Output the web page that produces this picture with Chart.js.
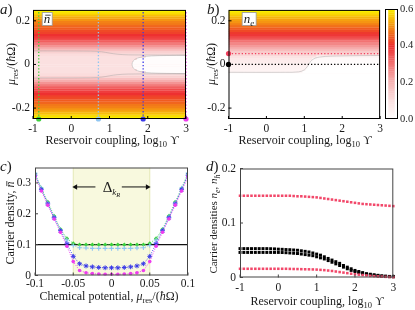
<!DOCTYPE html>
<html><head><meta charset="utf-8">
<script src="https://cdn.jsdelivr.net/npm/chart.js@4/dist/chart.umd.min.js"></script>
<style>
html,body{margin:0;padding:0;background:#fff;width:415px;height:310px;overflow:hidden;position:relative}
canvas{position:absolute}
</style></head><body>
<canvas id="ca" width="205" height="150" style="left:0;top:0"></canvas>
<canvas id="cb" width="186" height="150" style="left:200px;top:0"></canvas>
<canvas id="cbar" width="40" height="150" style="left:375px;top:0"></canvas>
<canvas id="cc" width="205" height="160" style="left:0;top:150px"></canvas>
<canvas id="cd" width="210" height="160" style="left:205px;top:150px"></canvas>
<script>
// ================= DATA =================
const muRows = [-0.245,-0.235,-0.225,-0.215,-0.205,-0.195,-0.185,-0.175,-0.165,-0.155,-0.145,-0.135,-0.125,-0.115,-0.105,-0.095,-0.085,-0.075,-0.065,-0.055,-0.045,-0.035,-0.025,-0.015,-0.005,0.005,0.015,0.025,0.035,0.045,0.055,0.065,0.075,0.085,0.095,0.105,0.115,0.125,0.135,0.145,0.155,0.165,0.175,0.185,0.195,0.205,0.215,0.225,0.235,0.245];
const nBarRows = [0.60,0.58,0.55,0.53,0.51,0.49,0.48,0.46,0.45,0.43,0.42,0.40,0.38,0.36,0.33,0.29,0.25,0.21,0.17,0.135,0.11,0.10,0.10,0.10,0.10,0.10,0.10,0.10,0.10,0.11,0.135,0.17,0.21,0.25,0.29,0.33,0.36,0.38,0.40,0.42,0.43,0.45,0.46,0.48,0.49,0.51,0.53,0.55,0.58,0.60];
const coreMuA    = [-0.035,-0.025,-0.015,-0.005,0.005,0.015,0.025,0.035];
const coreStartA = [1.95,1.72,1.62,1.59,1.59,1.62,1.72,1.95];
const coreValA   = [0.01,0.01,0.01,0.01,0.01,0.01,0.01,0.01];
const contACoreUps = [3.0,2.5,2.1,1.85,1.7,1.62,1.59,1.62,1.7,1.85,2.1,2.5,3.0];
const contACoreMu  = [0.042,0.041,0.039,0.034,0.027,0.016,0,-0.016,-0.027,-0.034,-0.039,-0.041,-0.042];
const contAOutUps  = [-1,0.5,0.8,1.0,1.2,1.5,3.0];
const contAOutMu   = [0.062,0.061,0.058,0.052,0.047,0.044,0.043];
const neRows = [0,0,0,0,0,0,0,0,0,0,0,0,0,0,0,0,0,0,0,0,0,0.03,0.035,0.04,0.045,0.05,0.06,0.07,0.09,0.12,0.15,0.18,0.21,0.24,0.27,0.30,0.33,0.36,0.39,0.41,0.43,0.45,0.47,0.49,0.51,0.52,0.54,0.56,0.58,0.60];
const coreMuB    = [-0.035,-0.025,-0.015,-0.005,0.005,0.015,0.025,0.035];
const coreStartB = [0.95,1.03,1.08,1.11,1.13,1.16,1.21,1.32];
const coreValB   = [0,0,0,0.002,0.006,0.012,0.02,0.035];
const contBUps = [-1,0.5,0.85,1.0,1.1,1.2,1.4,2.0,3.0];
const contBMu  = [-0.036,-0.036,-0.034,-0.025,-0.005,0.02,0.034,0.039,0.041];
const cutsUps   = [-0.85, 0.71, 1.88, 3.0];
const cutsColor = ['#3dd13d','#8fc6f2','#3a3ae8','#ee3cee'];
const cutsMu      = [0.05, 0];
const cutsMuColor = ['#f2405e','#000000'];
const cbarLevels = [];
for (let v = 0.005; v < 0.6; v += 0.01) cbarLevels.push(+v.toFixed(3));
const cbarTicks = [0, 0.2, 0.4, 0.6];
const muC = [-0.1,-0.0917,-0.0833,-0.075,-0.0667,-0.0583,-0.05,-0.0417,-0.0333,-0.025,-0.0167,-0.0083,0,0.0083,0.0167,0.025,0.0333,0.0417,0.05,0.0583,0.0667,0.075,0.0833,0.0917,0.1];
const nGreen = [0.330,0.283,0.238,0.193,0.150,0.120,0.104,0.100,0.100,0.100,0.100,0.100,0.100,0.100,0.100,0.100,0.100,0.100,0.104,0.120,0.150,0.193,0.238,0.283,0.330];
const nLight = [0.332,0.283,0.236,0.190,0.148,0.115,0.097,0.090,0.089,0.088,0.088,0.088,0.088,0.088,0.088,0.088,0.089,0.090,0.097,0.115,0.148,0.190,0.236,0.283,0.332];
const nBlue  = [0.325,0.278,0.232,0.187,0.145,0.103,0.062,0.038,0.031,0.028,0.026,0.025,0.025,0.025,0.026,0.028,0.031,0.038,0.062,0.103,0.145,0.187,0.232,0.278,0.325];
const nMag   = [0.320,0.274,0.228,0.183,0.140,0.095,0.045,0.016,0.009,0.006,0.005,0.004,0.004,0.004,0.005,0.006,0.009,0.016,0.045,0.095,0.140,0.183,0.228,0.274,0.320];
const bandC = [-0.05, 0.05];
const nTarget = 0.1;
const arrowY = 0.287;
const xTicksC = [-0.1,-0.05,0,0.05,0.1];
const yTicksC = [0,0.1,0.2,0.3];
const upsD = [-1.0,-0.9,-0.8,-0.7,-0.6,-0.5,-0.4,-0.3,-0.2,-0.1,0.0,0.1,0.2,0.3,0.4,0.5,0.6,0.7,0.8,0.9,1.0,1.1,1.2,1.3,1.4,1.5,1.6,1.7,1.8,1.9,2.0,2.1,2.2,2.3,2.4,2.5,2.6,2.7,2.8,2.9,3.0];
const neRed  = [0.150,0.150,0.150,0.150,0.150,0.150,0.150,0.150,0.150,0.150,0.150,0.150,0.150,0.150,0.1495,0.149,0.149,0.1485,0.148,0.1475,0.147,0.146,0.145,0.144,0.143,0.142,0.141,0.140,0.139,0.138,0.137,0.136,0.135,0.1345,0.134,0.1335,0.133,0.1325,0.132,0.1315,0.131];
const nhRed  = [0.016,0.016,0.016,0.016,0.016,0.016,0.016,0.016,0.016,0.016,0.016,0.016,0.016,0.0158,0.0156,0.0155,0.0153,0.0151,0.015,0.0148,0.0145,0.014,0.0135,0.0128,0.012,0.011,0.010,0.009,0.008,0.007,0.006,0.0052,0.0045,0.0038,0.003,0.0025,0.002,0.0016,0.0012,0.001,0.0008];
const neBlk  = [0.053,0.053,0.053,0.053,0.053,0.053,0.053,0.053,0.0528,0.0525,0.052,0.0517,0.0513,0.051,0.0505,0.050,0.049,0.048,0.0468,0.045,0.043,0.041,0.038,0.035,0.032,0.029,0.026,0.022,0.019,0.016,0.013,0.011,0.009,0.007,0.006,0.005,0.004,0.003,0.0025,0.002,0.002];
const nhBlk  = [0.046,0.046,0.046,0.046,0.046,0.046,0.046,0.046,0.046,0.046,0.046,0.0458,0.0455,0.045,0.0445,0.044,0.043,0.042,0.041,0.040,0.038,0.036,0.034,0.031,0.028,0.025,0.022,0.019,0.016,0.013,0.011,0.009,0.007,0.006,0.005,0.004,0.003,0.0025,0.002,0.0015,0.0012];
const upsTicks = [-1,0,1,2,3];
const muTicks = [-0.2,0,0.2];
const yTicksD = [0,0.1,0.2];

// ================= STYLE HELPERS =================
const FONT = '"Liberation Serif","DejaVu Serif",serif';
const TXT = '#1a1a1a';
Chart.defaults.font.family = FONT;
Chart.defaults.font.size = 11.5;
Chart.defaults.color = TXT;
Chart.defaults.animation = false;
Chart.defaults.plugins.legend.display = false;
Chart.defaults.plugins.tooltip.enabled = false;
Chart.defaults.layout.autoPadding = false;

const cmapStops = [[0,255,255,255],[0.1,251,224,224],[0.2,246,180,180],[0.3,242,115,115],[0.4,238,48,48],[0.45,240,92,32],[0.5,244,138,20],[0.55,248,192,8],[0.6,250,240,0]];
function cmap(v){
  if (v <= 0) return 'rgb(255,255,255)';
  if (v >= 0.6) return 'rgb(250,240,0)';
  for (let i=1;i<cmapStops.length;i++){
    const a=cmapStops[i-1], b=cmapStops[i];
    if (v<=b[0]){ const f=(v-a[0])/(b[0]-a[0]);
      return `rgb(${Math.round(a[1]+f*(b[1]-a[1]))},${Math.round(a[2]+f*(b[2]-a[2]))},${Math.round(a[3]+f*(b[3]-a[3]))})`; }
  }
}
const fmt = v => (Math.abs(v)<1e-9 ? '0' : String(+v.toFixed(3)));
const setTicks = arr => (s => { s.ticks = arr.map(v => ({value:v})); });

const S = (t,z,d,i,bar)=>({t,z,d:d||0,i:!!i,bar:!!bar});
function segFont(s){ return (s.i?'italic ':'') + s.z + 'px ' + FONT; }
function drawRich(ctx, segs, x, y, rot, align){
  ctx.save(); ctx.translate(x,y); if (rot) ctx.rotate(rot);
  let w=0; segs.forEach(s=>{ctx.font=segFont(s); s._w=ctx.measureText(s.t).width; w+=s._w;});
  let cx = align==='left'?0:(align==='right'?-w:-w/2);
  ctx.fillStyle=TXT; ctx.strokeStyle=TXT; ctx.textBaseline='alphabetic'; ctx.textAlign='left';
  segs.forEach(s=>{ctx.font=segFont(s); ctx.fillText(s.t,cx,s.d);
    if (s.bar){ctx.lineWidth=0.8;ctx.beginPath();ctx.moveTo(cx+1.5,s.d-s.z*0.6);ctx.lineTo(cx+s._w+0.5,s.d-s.z*0.6);ctx.stroke();}
    cx+=s._w;});
  ctx.restore();
  return w;
}
function drawBoxed(ctx, segs, x, y){
  ctx.save();
  let w=0; segs.forEach(s=>{ctx.font=segFont(s); w+=ctx.measureText(s.t).width;});
  ctx.fillStyle='#fff'; ctx.strokeStyle='#9a9a9a'; ctx.lineWidth=0.8;
  ctx.fillRect(x-1.5, y-10.5, w+3.5, 13); ctx.strokeRect(x-1.5, y-10.5, w+3.5, 13);
  ctx.restore();
  drawRich(ctx, segs, x, y, 0, 'left');
}
const upsTitle = [S('Reservoir coupling, log',12), S('10',8.5,3), S(' ϒ',12)];
const muTitle  = [S('μ',12,0,true), S('res',8.5,3), S('/(',12), S('ħ',12,0,true), S('Ω)',12)];

function framePlugin(color){
  return { id:'frame', afterDatasetsDraw(chart){
    const {ctx, chartArea:a} = chart;
    ctx.save(); ctx.strokeStyle=color; ctx.lineWidth=1;
    ctx.strokeRect(a.left+0.5, a.top+0.5, a.right-a.left-1, a.bottom-a.top-1);
    const sx = chart.scales.x, sy = chart.scales.y;
    ctx.beginPath();
    sx.ticks.forEach(t=>{const p=sx.getPixelForValue(t.value); ctx.moveTo(p,a.bottom); ctx.lineTo(p,a.bottom-3);});
    sy.ticks.forEach(t=>{const p=sy.getPixelForValue(t.value); ctx.moveTo(a.left,p); ctx.lineTo(a.left+3,p);});
    ctx.stroke(); ctx.restore();
  }};
}
function textPlugin(fn){ return { id:'txt', afterDraw(chart){ fn(chart.ctx, chart.chartArea, chart); } }; }

function heatScales(L, R, T, B, cw, ch){
  return {
    layout:{padding:{left:0, right:cw-R, top:T, bottom:0}},
    scales:{
      x:{type:'linear', min:-1, max:3, offset:false, grid:{display:false, drawTicks:false}, border:{display:false},
         afterBuildTicks:setTicks(upsTicks), afterFit:s=>{s.height=ch-B;}, ticks:{padding:3, callback:fmt}},
      yCat:{type:'category', display:false, reverse:true, offset:true, grid:{display:false}},
      y:{type:'linear', min:-0.25, max:0.25, position:'left', grid:{display:false, drawTicks:false}, border:{display:false},
         afterBuildTicks:setTicks(muTicks), afterFit:s=>{s.width=L;}, ticks:{padding:3, callback:fmt}}
    }
  };
}
function heatBar(values, starts){
  return {type:'bar', indexAxis:'y', xAxisID:'x', yAxisID:'yCat', grouped:false, order:10,
    barPercentage:1.15, categoryPercentage:1, borderWidth:0,
    data: starts, backgroundColor: values.map(v=>cmap(v))};
}
function coreData(coreMu, coreStart, coreVal){
  const d = muRows.map(()=>null), c = muRows.map(()=>'#fff');
  coreMu.forEach((m,i)=>{ const k = muRows.indexOf(m); d[k] = [coreStart[i], 3]; c[k] = cmap(coreVal[i]); });
  return {d, c};
}
function contour(xs, ys, sign){
  return {type:'line', xAxisID:'x', yAxisID:'y', order:5, data:xs.map((x,i)=>({x, y:sign*ys[i]})),
    borderColor:'rgba(160,160,160,0.55)', borderWidth:0.8, pointRadius:0, tension:0.35};
}

// ================= PANEL A =================
(function(){
  const cw=205, ch=150, L=33, R=186, T=9, B=119;
  const hs = heatScales(L,R,T,B,cw,ch);
  const core = coreData(coreMuA, coreStartA, coreValA);
  const base = heatBar(nBarRows, muRows.map(()=>[-1,3]));
  const coreDs = heatBar(coreValA, core.d); coreDs.backgroundColor = core.c; coreDs.order = 9;
  const lines = cutsUps.map((u,i)=>({type:'line', xAxisID:'x', yAxisID:'y', order:1, clip:false,
    data:[{x:u,y:-0.25},{x:u,y:0.25}], borderColor:cutsColor[i], borderWidth:1.3, borderDash:[1.3,2],
    pointRadius:[2.6,0], pointBackgroundColor:cutsColor[i], pointBorderWidth:0}));
  const conts = [contour(contACoreUps, contACoreMu, 1), contour(contAOutUps, contAOutMu, 1), contour(contAOutUps, contAOutMu, -1)];
  new Chart(document.getElementById('ca'), {
    type:'bar',
    data:{labels:muRows.map(String), datasets:[base, coreDs, ...conts, ...lines]},
    options:{responsive:false, devicePixelRatio:1, ...hs},
    plugins:[framePlugin('#000'), textPlugin((ctx,a,chart)=>{
      drawRich(ctx,[S('a',15,0,true),S(')',15)],0,14,0,'left');
      drawRich(ctx, upsTitle, 112, 144, 0, 'center');
      drawRich(ctx, muTitle, 14.5, 64, -Math.PI/2, 'center');
      drawBoxed(ctx,[S('n',13,0,true,true)], chart.scales.x.getPixelForValue(-0.72), chart.scales.y.getPixelForValue(0.19));
    })]
  });
})();

// ================= PANEL B =================
(function(){
  const cw=186, ch=150, L=28.5, R=181.5, T=9, B=119;
  const hs = heatScales(L,R,T,B,cw,ch);
  const core = coreData(coreMuB, coreStartB, coreValB);
  const base = heatBar(neRows, muRows.map(()=>[-1,3]));
  const coreDs = heatBar(coreValB, core.d); coreDs.backgroundColor = core.c; coreDs.order = 9;
  const lines = cutsMu.map((m,i)=>({type:'line', xAxisID:'x', yAxisID:'y', order:1, clip:false,
    data:[{x:-1,y:m},{x:3,y:m}], borderColor:cutsMuColor[i], borderWidth:1.3, borderDash:[1.3,2],
    pointRadius:[2.6,0], pointBackgroundColor:cutsMuColor[i], pointBorderWidth:0}));
  new Chart(document.getElementById('cb'), {
    type:'bar',
    data:{labels:muRows.map(String), datasets:[base, coreDs, contour(contBUps, contBMu, 1), ...lines]},
    options:{responsive:false, devicePixelRatio:1, ...hs},
    plugins:[framePlugin('#000'), textPlugin((ctx,a,chart)=>{
      drawRich(ctx,[S('b',15,0,true),S(')',15)],7,14,0,'left');
      drawRich(ctx, upsTitle, 105, 144, 0, 'center');
      drawRich(ctx, muTitle, 14.5, 64, -Math.PI/2, 'center');
      drawBoxed(ctx,[S('n',13,0,true),S('e',9,3,true)], chart.scales.x.getPixelForValue(-0.6), chart.scales.y.getPixelForValue(0.19));
    })]
  });
})();

// ================= COLOUR BAR =================
(function(){
  const cw=40, ch=150, Lp=10, R=23, T=9, B=119;
  new Chart(document.getElementById('cbar'), {
    type:'bar',
    data:{labels:cbarLevels.map(String), datasets:[{type:'bar', indexAxis:'y', xAxisID:'x', yAxisID:'yCat', grouped:false,
      barPercentage:1.15, categoryPercentage:1, borderWidth:0, data:cbarLevels.map(()=>[0,1]), backgroundColor:cbarLevels.map(v=>cmap(v))}]},
    options:{responsive:false, devicePixelRatio:1,
      layout:{padding:{left:Lp, right:0, top:T, bottom:ch-B}},
      scales:{
        x:{type:'linear', min:0, max:1, display:false},
        yCat:{type:'category', display:false, reverse:true, offset:true},
        y:{type:'linear', min:0, max:0.6, position:'right', grid:{display:false, drawTicks:false}, border:{display:false},
           afterBuildTicks:setTicks(cbarTicks), afterFit:s=>{s.width=cw-R;}, ticks:{padding:2, callback:v=>v.toFixed(1), font:{size:10.5}}}
      }},
    plugins:[{id:'fr', afterDatasetsDraw(chart){const {ctx,chartArea:a}=chart; ctx.save(); ctx.strokeStyle='#000'; ctx.lineWidth=1;
      ctx.strokeRect(a.left+0.5,a.top+0.5,a.right-a.left-1,a.bottom-a.top-1); ctx.restore();}}]
  });
})();

// ================= PANEL C =================
(function(){
  const cw=205, ch=160, L=35, R=188, T=17.5, B=125.5;
  const ser = (ys, color, style, r, bw) => ({data:muC.map((m,i)=>({x:m,y:ys[i]})), borderColor:color, backgroundColor:color,
    borderWidth:0.9, borderDash:[1,1.5], showLine:true, pointStyle:style, pointRadius:r, pointBorderWidth:bw, pointBackgroundColor:color, pointBorderColor:color, order:2});
  const ds = [
    {data:[{x:bandC[0],y:0.35},{x:bandC[1],y:0.35}], fill:'start', backgroundColor:'#f8f9de', borderWidth:0, pointRadius:0, order:20},
    {data:[{x:bandC[0],y:0},{x:bandC[0],y:0.35}], borderColor:'#e4e8b4', borderWidth:1, pointRadius:0, order:19},
    {data:[{x:bandC[1],y:0},{x:bandC[1],y:0.35}], borderColor:'#e4e8b4', borderWidth:1, pointRadius:0, order:19},
    {data:[{x:-0.1,y:nTarget},{x:0.1,y:nTarget}], borderColor:'#111', borderWidth:1.2, pointRadius:0, order:5},
    {data:[{x:bandC[0]+0.003,y:arrowY},{x:-0.021,y:arrowY}], borderColor:'#111', borderWidth:1, pointStyle:'triangle', rotation:-90, pointRadius:[3.2,0], pointBackgroundColor:'#111', pointBorderWidth:0, order:1},
    {data:[{x:0.0135,y:arrowY},{x:bandC[1]-0.003,y:arrowY}], borderColor:'#111', borderWidth:1, pointStyle:'triangle', rotation:90, pointRadius:[0,3.2], pointBackgroundColor:'#111', pointBorderWidth:0, order:1},
    ser(nMag, '#ee3cee', 'circle', 1.8, 0),
    ser(nBlue, '#3a3ae8', 'star', 2.4, 1),
    ser(nLight, '#8fc6f2', 'cross', 2.3, 1.1),
    ser(nGreen, '#3dd13d', 'rectRot', 2.2, 0)
  ];
  new Chart(document.getElementById('cc'), {
    type:'line',
    data:{datasets:ds},
    options:{responsive:false, devicePixelRatio:1,
      layout:{padding:{left:0,right:cw-R,top:T,bottom:0}},
      scales:{
        x:{type:'linear', min:-0.1, max:0.1, grid:{display:false, drawTicks:false}, border:{display:false},
           afterBuildTicks:setTicks(xTicksC), afterFit:s=>{s.height=ch-B;}, ticks:{padding:2, callback:fmt}},
        y:{type:'linear', min:0, max:0.35, grid:{display:false, drawTicks:false}, border:{display:false},
           afterBuildTicks:setTicks(yTicksC), afterFit:s=>{s.width=L;}, ticks:{padding:4, callback:fmt}}
      }},
    plugins:[framePlugin('#444'), textPlugin((ctx,a,chart)=>{
      drawRich(ctx,[S('c',15,0,true),S(')',15)],0,21,0,'left');
      drawRich(ctx,[S('Chemical potential, ',12), ...muTitle], 109, 149.5, 0, 'center');
      drawRich(ctx,[S('Carrier density, ',12), S('n',12,0,true,true)], 14, 73, -Math.PI/2, 'center');
      const px = chart.scales.x.getPixelForValue(0), py = chart.scales.y.getPixelForValue(arrowY);
      drawRich(ctx,[S('Δ',15), S('k',9,3,true), S('R',6.5,5,true)], px, py+5, 0, 'center');
    })]
  });
})();

// ================= PANEL D =================
(function(){
  const cw=210, ch=160, L=35, R=188.3, T=18.5, B=127.5;
  const ser = (ys, color, r) => ({data:upsD.map((u,i)=>({x:u,y:ys[i]})), showLine:false, pointStyle:'rect', pointRadius:r,
    pointBackgroundColor:color, pointBorderColor:color, pointBorderWidth:0, clip:false});
  new Chart(document.getElementById('cd'), {
    type:'line',
    data:{datasets:[ser(neRed,'#f2486a',1.8), ser(nhRed,'#f2486a',1.8), ser(neBlk,'#000',2.1), ser(nhBlk,'#000',2.1)]},
    options:{responsive:false, devicePixelRatio:1,
      layout:{padding:{left:0,right:cw-R,top:T,bottom:0}},
      scales:{
        x:{type:'linear', min:-1, max:3, grid:{display:false, drawTicks:false}, border:{display:false},
           afterBuildTicks:setTicks(upsTicks), afterFit:s=>{s.height=ch-B;}, ticks:{padding:4, callback:fmt}},
        y:{type:'linear', min:0, max:0.2, grid:{display:false, drawTicks:false}, border:{display:false},
           afterBuildTicks:setTicks(yTicksD), afterFit:s=>{s.width=L;}, ticks:{padding:4, callback:fmt}}
      }},
    plugins:[framePlugin('#444'), textPlugin((ctx,a,chart)=>{
      drawRich(ctx,[S('d',15,0,true),S(')',15)],1,21,0,'left');
      drawRich(ctx, upsTitle, 112, 155, 0, 'center');
      drawRich(ctx,[S('Carrier densities ',11), S('n',11,0,true), S('e',8,3,true), S(', ',11), S('n',11,0,true), S('h',8,3,true)], 11.5, 74, -Math.PI/2, 'center');
    })]
  });
})();
</script>
</body></html>
